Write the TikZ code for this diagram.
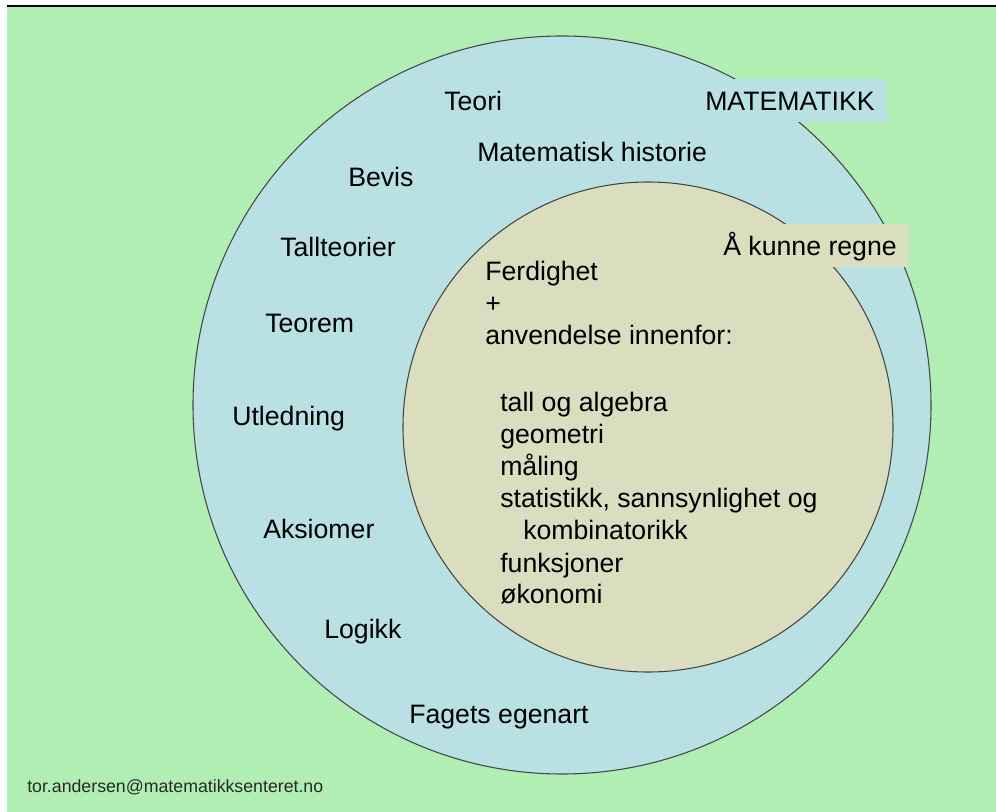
\documentclass[tikz,border=0pt]{standalone}
\usepackage{fontspec}
\setmainfont{Liberation Sans}
\definecolor{bggreen}{RGB}{177,238,180}
\definecolor{circblue}{RGB}{185,224,227}
\definecolor{innerbeige}{RGB}{218,222,191}
\definecolor{ringline}{RGB}{70,70,70}
\definecolor{mailgray}{RGB}{40,40,40}
\begin{document}
\begin{tikzpicture}[x=0.75pt,y=-0.75pt,
  lbl/.style={anchor=base west, inner sep=0pt, font=\fontsize{20}{24}\selectfont},
  boxlbl/.style={anchor=base west, inner xsep=9pt, inner ysep=0pt, text height=24.3pt, text depth=8.6pt, font=\fontsize{20}{24}\selectfont},
  ring/.style={circle, draw=ringline, line width=0.8pt, inner sep=0pt, outer sep=0pt}]
\useasboundingbox (0,0) rectangle (996,812);
\fill[white] (0,0) rectangle (996,812);
\fill[bggreen] (7,7) rectangle (996,812);
\draw[black, line width=1.3pt] (7,6) -- (996,6);
\node[ring, fill=circblue, minimum size=553.5pt] (outer) at (562,405) {};
\node[boxlbl, fill=circblue] (matbox) at (693,111) {MATEMATIKK};
\node[ring, fill=innerbeige, minimum size=367.5pt] (inner) at (648,427) {};
\node[boxlbl, fill=innerbeige] (regne) at (711,256) {Å kunne regne};
\node[lbl] (teori) at (444,111) {Teori};
\node[lbl] (hist) at (477,162) {Matematisk historie};
\node[lbl] (bevis) at (348,187) {Bevis};
\node[lbl] (tallt) at (280,257) {Tallteorier};
\node[lbl] (teorem) at (265,333) {Teorem};
\node[lbl] (utl) at (232,426) {Utledning};
\node[lbl] (aks) at (263,539) {Aksiomer};
\node[lbl] (log) at (324,638) {Logikk};
\node[lbl] (fag) at (409,723) {Fagets egenart};
\node[lbl] (ferd) at (485,281) {Ferdighet};
\node[lbl] (plus) at (485,313) {+};
\node[lbl] (anv) at (485,345) {anvendelse innenfor:};
\node[lbl] (tall) at (500,412) {tall og algebra};
\node[lbl] (geo) at (500,444) {geometri};
\node[lbl] (mal) at (500,476) {måling};
\node[lbl] (stat) at (500,508) {statistikk, sannsynlighet og};
\node[lbl] (komb) at (523,540) {kombinatorikk};
\node[lbl] (funk) at (500,572) {funksjoner};
\node[lbl] (oko) at (500,604) {økonomi};
\node[anchor=base west, inner sep=0pt, text=mailgray, font=\fontsize{13.3}{16}\selectfont] (mail) at (27,792) {tor.andersen@matematikksenteret.no};
\end{tikzpicture}
\end{document}
